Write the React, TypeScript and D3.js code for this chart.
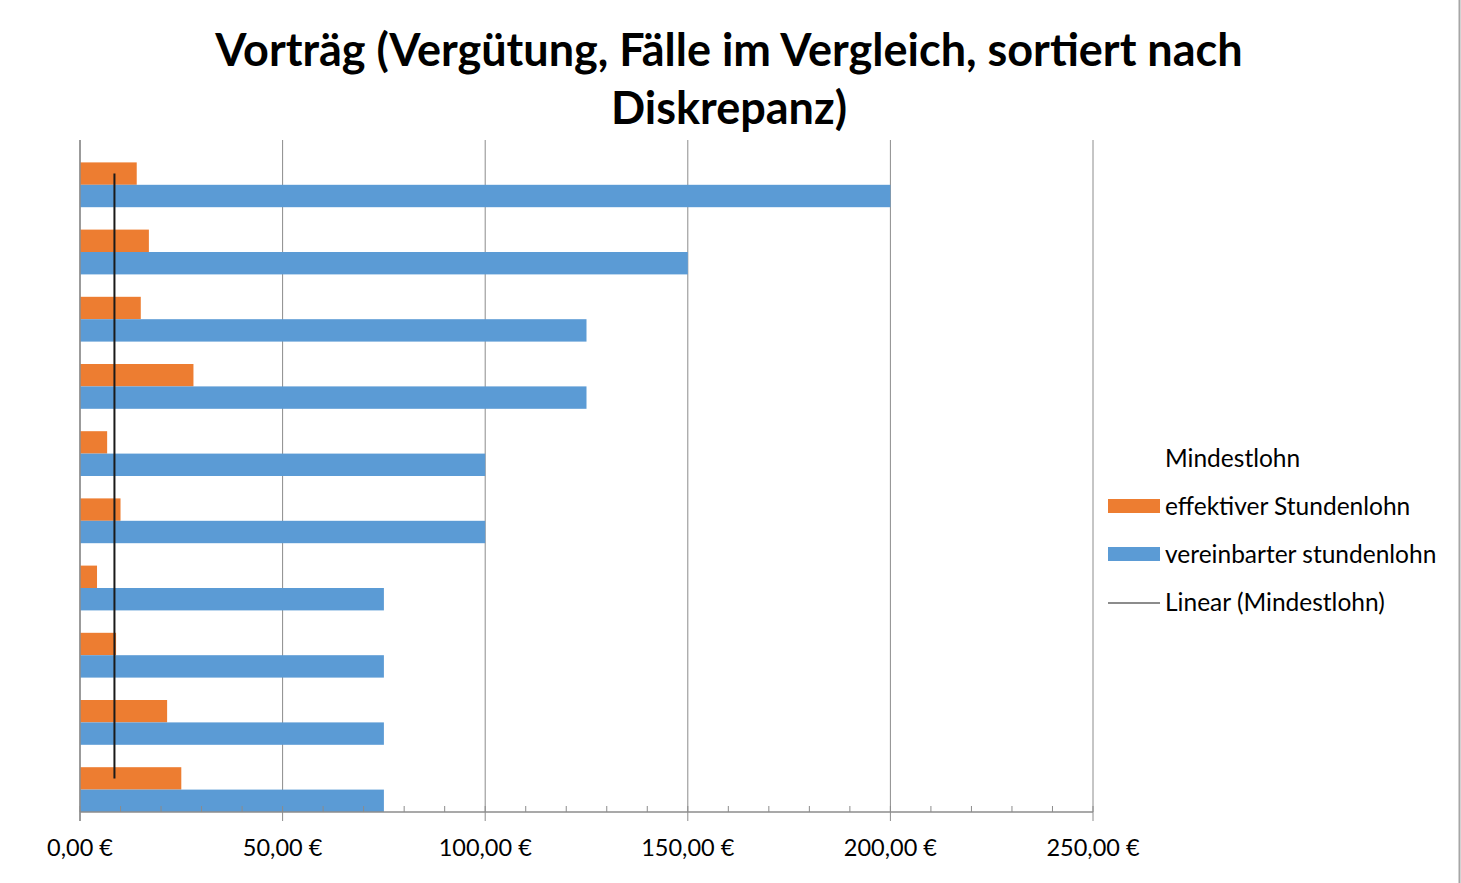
import React from "react"
import * as d3 from "d3"

// cases, top to bottom (sorted by discrepancy)
const cases = ["Fall 1", "Fall 2", "Fall 3", "Fall 4", "Fall 5", "Fall 6", "Fall 7", "Fall 8", "Fall 9", "Fall 10"]
const mindestlohn = [8.5, 8.5, 8.5, 8.5, 8.5, 8.5, 8.5, 8.5, 8.5, 8.5]
const effektiv = [14, 17, 15, 28, 6.7, 10, 4.2, 8.9, 21.5, 25]
const vereinbart = [200, 150, 125, 125, 100, 100, 75, 75, 75, 75]
const xTicks = [0, 50, 100, 150, 200, 250]
const minorTicks = d3.range(0, 251, 10)

const series = ["Mindestlohn", "effektiver Stundenlohn", "vereinbarter stundenlohn"]
const colors = { "effektiver Stundenlohn": "#ED7D31", "vereinbarter stundenlohn": "#5B9BD5" }

const W = 1461
const H = 883
const left = 80
const right = 1093
const top = 140
const bottom = 812
const font = "Lato, 'Open Sans', sans-serif"

const de = d3.formatLocale({ decimal: ",", thousands: ".", grouping: [3], currency: ["", " €"] })
const fmt = de.format("$,.2f")

export default function App() {
	const x = d3.scaleLinear().domain([0, 250]).range([left, right])
	const y = d3.scaleBand().domain(cases).range([top, bottom])
	// the Mindestlohn series is an invisible bar taking the first slot
	const ySub = d3.scaleBand().domain(series).range([0, y.bandwidth()])

	const rows = cases.map((c, i) => ({
		c,
		vals: [mindestlohn[i], effektiv[i], vereinbart[i]],
	}))

	const trend = d3
		.line<number>()
		.x(d => x(d))
		.y((_, i) => y(cases[i])! + y.bandwidth() / 2)

	return (
		<svg width={W} height={H} style={{ position: "absolute", left: 0, top: 0, background: "#fff" }} fontFamily={font}>
			<text x={729} y={66} textAnchor="middle" fontSize={45} fontWeight="bold" fill="#000">
				Vorträg (Vergütung, Fälle im Vergleich, sortiert nach
			</text>
			<text x={729} y={124} textAnchor="middle" fontSize={45} fontWeight="bold" fill="#000">
				Diskrepanz)
			</text>

			{/* gridlines */}
			{xTicks.map(t => (
				<line key={"g" + t} x1={x(t)} x2={x(t)} y1={top} y2={bottom + 9} stroke="#8c8c8c" strokeWidth={1} />
			))}
			{/* bars */}
			{rows.map(r => (
				<g key={r.c} transform={`translate(0,${y(r.c)})`}>
					{series.map((s, j) =>
						s === "Mindestlohn" ? null : (
							<rect
								key={s}
								x={x(0)}
								y={ySub(s)}
								width={x(r.vals[j]) - x(0)}
								height={ySub.bandwidth()}
								fill={colors[s]}
							/>
						),
					)}
				</g>
			))}
			{/* axis */}
			<line x1={left} x2={right} y1={bottom} y2={bottom} stroke="#8c8c8c" strokeWidth={1.5} />
			<line x1={left} x2={left} y1={top} y2={bottom + 9} stroke="#8c8c8c" strokeWidth={1.5} />
			{minorTicks.map(t => (
				<line key={"m" + t} x1={x(t)} x2={x(t)} y1={bottom - 6} y2={bottom} stroke="#8c8c8c" strokeWidth={1} />
			))}
			{xTicks.map(t => (
				<text key={"l" + t} x={x(t)} y={856} textAnchor="middle" fontSize={23.5} fill="#000">
					{fmt(t)}
				</text>
			))}

			{/* Linear (Mindestlohn) */}
			<path d={trend(mindestlohn)!} fill="none" stroke="#1a1a1a" strokeWidth={2} />

			{/* legend */}
			<g fontSize={24.5} fill="#000">
				<text x={1165} y={467}>Mindestlohn</text>
				<rect x={1108} y={499} width={52} height={14} fill={colors["effektiver Stundenlohn"]} />
				<text x={1165} y={515}>effektiver Stundenlohn</text>
				<rect x={1108} y={547} width={52} height={14} fill={colors["vereinbarter stundenlohn"]} />
				<text x={1165} y={563}>vereinbarter stundenlohn</text>
				<line x1={1108} x2={1160} y1={603} y2={603} stroke="#1a1a1a" strokeWidth={1.2} />
				<text x={1165} y={611}>Linear (Mindestlohn)</text>
			</g>

			<line x1={1459.5} x2={1459.5} y1={0} y2={H} stroke="#a6a6a6" strokeWidth={2} />
		</svg>
	)
}
